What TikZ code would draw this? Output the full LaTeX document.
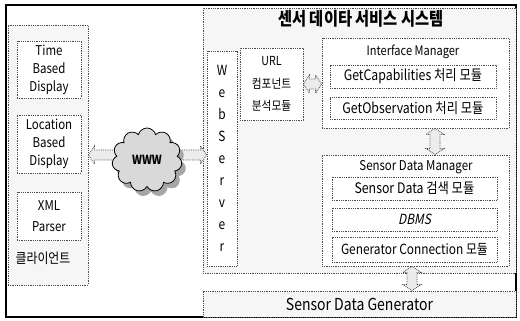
\documentclass[tikz,border=0pt]{standalone}
\usepackage{fontspec}
\setmainfont{Noto Sans CJK KR}[FakeStretch=0.85]
\newfontfamily\slfont{Noto Sans CJK KR}[FakeStretch=0.85,FakeSlant=0.2]
\usetikzlibrary{shapes.symbols,calc}
\tikzset{
  dotbox/.style={draw=black!70, densely dotted, line width=0.8pt, inner sep=0pt},
  panel/.style={dotbox, fill=gray!7},
  inbox/.style={dotbox, fill=white, align=center},
  fs/.style 2 args={font=\fontsize{#1}{#2}\selectfont},
  lbl/.style={inner sep=0pt, align=center},
  harrow/.style={dotbox, fill=gray!15,
    to path={let \p1=(\tikztostart),\p2=(\tikztotarget) in
      (\x1,\y1) -- (\x1+6pt,\y1+9pt) -- (\x1+6pt,\y1+5pt) -- (\x2-6pt,\y1+5pt)
      -- (\x2-6pt,\y1+9pt) -- (\x2,\y1) -- (\x2-6pt,\y1-9pt) -- (\x2-6pt,\y1-5pt)
      -- (\x1+6pt,\y1-5pt) -- (\x1+6pt,\y1-9pt) -- cycle}},
  varrow/.style={dotbox, fill=gray!15,
    to path={let \p1=(\tikztostart),\p2=(\tikztotarget) in
      (\x1,\y1) -- (\x1+9pt,\y1-6pt) -- (\x1+5pt,\y1-6pt) -- (\x1+5pt,\y2+6pt)
      -- (\x1+9pt,\y2+6pt) -- (\x1,\y2) -- (\x1-9pt,\y2+6pt) -- (\x1-5pt,\y2+6pt)
      -- (\x1-5pt,\y1-6pt) -- (\x1-9pt,\y1-6pt) -- cycle}},
  wcloud/.style={cloud, cloud puffs=11, aspect=1.15, minimum width=70pt, minimum height=64pt, inner sep=0pt}
}
\begin{document}
\begin{tikzpicture}[x=1pt,y=-1pt]
\useasboundingbox (0,0) rectangle (520,321);
\fill[white] (0,0) rectangle (520,321);
% outer frame
\draw[line width=1.4pt] (6,5) rectangle (516,317);
% panels
\node[panel, minimum width=80pt, minimum height=260pt] (client) at (48,155) {};
\node[panel, minimum width=313pt, minimum height=265pt] (sys) at (359.5,140.5) {};
\node[panel, minimum width=313pt, minimum height=26pt, fs={16.5}{18}] (sdg) at (359.5,304) {Sensor Data Generator};
% client side
\node[inbox, minimum width=64pt, minimum height=57pt, fs={13.5}{18}] (tbd) at (49,69.5) {Time\\Based\\Display};
\node[inbox, minimum width=64pt, minimum height=58pt, fs={13.5}{18}] (lbd) at (49,144) {Location\\Based\\Display};
\node[inbox, minimum width=64pt, minimum height=48pt, fs={13.5}{21}] (xml) at (49,216) {XML\\Parser};
\node[lbl, fs={14}{16}] (cl) at (43,258) {클라이언트};
% system
\node[lbl, font={\bfseries\fontsize{18}{20}\selectfont}] (title) at (361,19) {센서 데이타 서비스 시스템};
\node[inbox, minimum width=30pt, minimum height=215pt, fs={14}{22}] (ws) at (222,158.5) {W\\e\\b\\S\\e\\r\\v\\e\\r};
\node[inbox, minimum width=63pt, minimum height=72pt, fs={12.5}{22.5}] (url) at (271.5,84) {URL\\컴포넌트\\분석모듈};
\node[inbox, minimum width=187pt, minimum height=90pt] (im) at (415.5,83) {};
\node[lbl, fs={13}{14}] (iml) at (413,52) {Interface Manager};
\node[inbox, minimum width=166pt, minimum height=23pt, fs={14.5}{16}] (gc) at (413,76.5) {GetCapabilities 처리 모듈};
\node[inbox, minimum width=166pt, minimum height=22pt, fs={14.5}{16}] (go) at (413,108) {GetObservation 처리 모듈};
\node[inbox, minimum width=187pt, minimum height=111pt] (sdm) at (415.5,210.5) {};
\node[lbl, fs={13.5}{15}] (sdml) at (416,167) {Sensor Data Manager};
\node[inbox, minimum width=165pt, minimum height=23pt, fs={14.5}{16}] (sds) at (414.5,188.5) {Sensor Data 검색 모듈};
\node[inbox, minimum width=165pt, minimum height=23pt, fs={14}{15}] (dbms) at (414.5,219.5) {\slfont DBMS};
\node[inbox, minimum width=165pt, minimum height=25pt, fs={14}{16}] (gcm) at (414.5,249.5) {Generator Connection 모듈};
% connectors
\draw[harrow] (client.east) to (ws.west);
\draw[harrow] (url.east) to (im.west);
\draw[varrow] ([xshift=19.5pt]im.south) to ([xshift=19.5pt]sdm.north);
\draw[varrow] ([xshift=-3.5pt]sdm.south) to ([xshift=-3.5pt]sdg.north);
% cloud
\node[wcloud, fill=gray!70] (shadow) at (151,165) {};
\node[wcloud, draw=black, line width=0.8pt, fill=gray!30, font=\bfseries\fontsize{12.5}{14}\selectfont] (www) at (147,160) {WWW};
\end{tikzpicture}
\end{document}
